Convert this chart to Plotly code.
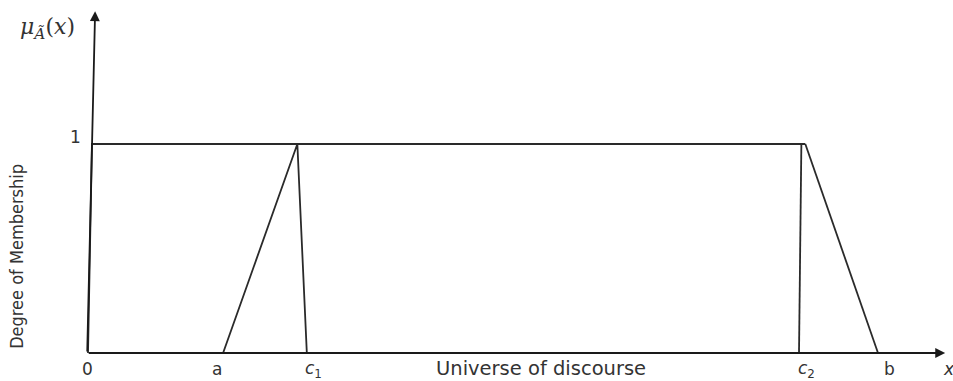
import plotly.graph_objects as go

# x positions on the universe of discourse (b = 10 units)
x_zero = 0.0
x_a = 1.71
x_apex = 2.65
x_c1 = 2.77
x_c2 = 9.0
x_c2_top = 9.03
x_shoulder = 9.08
x_b = 10.0
x_left_top = 0.05

# membership grades
mu_low = 0.0
mu_high = 1.0

# axis extents (arrow tips)
x_axis_end = 10.85
y_axis_end = 1.635

# tick labels under the axis
tick_pos = [x_zero, x_a, x_c1, x_c2, x_b]
tick_text = ["0", "a", "<i>c</i><sub>1</sub>", "<i>c</i><sub>2</sub>", "b"]
tick_shift = [-1, -6, 7, 7, 11]

line_style = dict(color="#2a2a2a", width=1.8)

fig = go.Figure()

# left edge + plateau at 1
fig.add_trace(go.Scatter(x=[x_zero, x_left_top, x_shoulder], y=[mu_low, mu_high, mu_high],
                         mode="lines", line=line_style, hoverinfo="skip"))
# triangle a - c1
fig.add_trace(go.Scatter(x=[x_a, x_apex, x_c1], y=[mu_low, mu_high, mu_low],
                         mode="lines", line=line_style, hoverinfo="skip"))
# c2 vertical
fig.add_trace(go.Scatter(x=[x_c2, x_c2_top], y=[mu_low, mu_high],
                         mode="lines", line=line_style, hoverinfo="skip"))
# right slope down to b
fig.add_trace(go.Scatter(x=[x_shoulder, x_b], y=[mu_high, mu_low],
                         mode="lines", line=line_style, hoverinfo="skip"))

annotations = []

# axes drawn as arrows
annotations.append(dict(x=x_axis_end, y=mu_low, ax=-0.01, ay=mu_low, xref="x", yref="y",
                        axref="x", ayref="y", showarrow=True, arrowhead=2, arrowsize=1.1,
                        arrowwidth=1.8, arrowcolor="#1a1a1a", text=""))
annotations.append(dict(x=0.09, y=y_axis_end, ax=-0.01, ay=mu_low, xref="x", yref="y",
                        axref="x", ayref="y", showarrow=True, arrowhead=2, arrowsize=1.1,
                        arrowwidth=1.8, arrowcolor="#1a1a1a", text=""))

label_font = dict(family="DejaVu Sans", size=17, color="#333333")
for pos, txt, sh in zip(tick_pos, tick_text, tick_shift):
    annotations.append(dict(x=pos, y=mu_low, xref="x", yref="y", text=txt, showarrow=False,
                            xshift=sh, yshift=-16, font=label_font))

annotations.append(dict(x=(x_c1 + x_c2) / 2 - 0.15, y=mu_low, xref="x", yref="y",
                        text="Universe of discourse", showarrow=False, yshift=-15,
                        font=dict(family="DejaVu Sans", size=19.5, color="#333333")))
annotations.append(dict(x=x_axis_end, y=mu_low, xref="x", yref="y", text="<i>x</i>",
                        showarrow=False, xshift=4, yshift=-16, font=label_font))
annotations.append(dict(x=x_zero, y=mu_high, xref="x", yref="y", text="1", showarrow=False,
                        xshift=-13, yshift=7, font=label_font))
annotations.append(dict(x=x_zero, y=y_axis_end, xref="x", yref="y",
                        text="<i>μ</i><sub><i>Ã</i></sub>(<i>x</i>)", showarrow=False,
                        xshift=-41, yshift=-17,
                        font=dict(family="DejaVu Serif", size=22, color="#333333")))
annotations.append(dict(x=x_zero, y=0.46, xref="x", yref="y", text="Degree of Membership",
                        showarrow=False, textangle=-90, xshift=-71,
                        font=dict(family="Liberation Sans Narrow, DejaVu Sans Condensed", size=18,
                                  color="#333333")))

fig.update_layout(
    width=953, height=381,
    margin=dict(l=0, r=0, t=0, b=0),
    plot_bgcolor="white", paper_bgcolor="white",
    showlegend=False,
    xaxis=dict(visible=False, range=[-88 / 79, 865 / 79], fixedrange=True),
    yaxis=dict(visible=False, range=[-28 / 209, 353 / 209], fixedrange=True),
    annotations=annotations,
)

fig.write_html("out.html", config={"displayModeBar": False},
               post_script="document.body.style.margin='0';document.body.style.overflow='hidden';")
